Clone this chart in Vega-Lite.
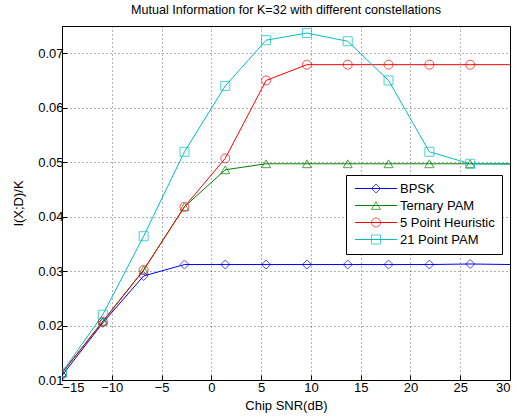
{
  "$schema": "https://vega.github.io/schema/vega-lite/v6.json",
  "autosize": {"type": "none"},
  "padding": {"left": 62, "top": 26, "right": 7, "bottom": 39},
  "width": 448,
  "height": 354,
  "title": {"text": "Mutual Information for K=32 with different constellations", "fontSize": 12.6, "font": "Liberation Sans", "fontWeight": "normal", "color": "#000", "offset": 9},
  "config": {
    "view": {"stroke": "#000", "strokeWidth": 1},
    "font": "Liberation Sans",
    "axis": {
      "labelFont": "Liberation Sans", "labelFontSize": 13, "labelColor": "#000",
      "titleFont": "Liberation Sans", "titleFontSize": 13, "titleColor": "#000", "titleFontWeight": "normal",
      "domainColor": "#000", "tickColor": "#000", "tickSize": -5,
      "gridColor": "#000", "gridOpacity": 0.6, "gridDash": [1, 3], "gridWidth": 1
    },
    "legend": {"labelFont": "Liberation Sans", "labelFontSize": 13, "labelColor": "#000", "symbolSize": 81, "symbolStrokeWidth": 1, "rowPadding": 3, "padding": 7}
  },
  "data": {"values": [
    {"series": "BPSK", "x": -15, "y": 0.0108},
    {"series": "BPSK", "x": -10.9, "y": 0.0205},
    {"series": "BPSK", "x": -6.8, "y": 0.0291},
    {"series": "BPSK", "x": -2.7, "y": 0.0312},
    {"series": "BPSK", "x": 1.4, "y": 0.0312},
    {"series": "BPSK", "x": 5.5, "y": 0.0312},
    {"series": "BPSK", "x": 9.6, "y": 0.0312},
    {"series": "BPSK", "x": 13.7, "y": 0.0312},
    {"series": "BPSK", "x": 17.8, "y": 0.0312},
    {"series": "BPSK", "x": 21.9, "y": 0.0312},
    {"series": "BPSK", "x": 26, "y": 0.0313},
    {"series": "BPSK", "x": 30.1, "y": 0.0312},
    {"series": "Ternary PAM", "x": -15, "y": 0.0113},
    {"series": "Ternary PAM", "x": -10.9, "y": 0.0208},
    {"series": "Ternary PAM", "x": -6.8, "y": 0.0302},
    {"series": "Ternary PAM", "x": -2.7, "y": 0.0418},
    {"series": "Ternary PAM", "x": 1.4, "y": 0.0486},
    {"series": "Ternary PAM", "x": 5.5, "y": 0.0497},
    {"series": "Ternary PAM", "x": 9.6, "y": 0.0497},
    {"series": "Ternary PAM", "x": 13.7, "y": 0.0497},
    {"series": "Ternary PAM", "x": 17.8, "y": 0.0497},
    {"series": "Ternary PAM", "x": 21.9, "y": 0.0497},
    {"series": "Ternary PAM", "x": 26, "y": 0.0497},
    {"series": "Ternary PAM", "x": 30.1, "y": 0.0497},
    {"series": "5 Point Heuristic", "x": -15, "y": 0.0113},
    {"series": "5 Point Heuristic", "x": -10.9, "y": 0.0207},
    {"series": "5 Point Heuristic", "x": -6.8, "y": 0.0302},
    {"series": "5 Point Heuristic", "x": -2.7, "y": 0.0418},
    {"series": "5 Point Heuristic", "x": 1.4, "y": 0.0507},
    {"series": "5 Point Heuristic", "x": 5.5, "y": 0.0650},
    {"series": "5 Point Heuristic", "x": 9.6, "y": 0.0679},
    {"series": "5 Point Heuristic", "x": 13.7, "y": 0.0679},
    {"series": "5 Point Heuristic", "x": 17.8, "y": 0.0679},
    {"series": "5 Point Heuristic", "x": 21.9, "y": 0.0679},
    {"series": "5 Point Heuristic", "x": 26, "y": 0.0679},
    {"series": "5 Point Heuristic", "x": 30.1, "y": 0.0679},
    {"series": "21 Point PAM", "x": -15, "y": 0.0114},
    {"series": "21 Point PAM", "x": -10.9, "y": 0.0220},
    {"series": "21 Point PAM", "x": -6.8, "y": 0.0364},
    {"series": "21 Point PAM", "x": -2.7, "y": 0.0519},
    {"series": "21 Point PAM", "x": 1.4, "y": 0.0640},
    {"series": "21 Point PAM", "x": 5.5, "y": 0.0724},
    {"series": "21 Point PAM", "x": 9.6, "y": 0.0737},
    {"series": "21 Point PAM", "x": 13.7, "y": 0.0722},
    {"series": "21 Point PAM", "x": 17.8, "y": 0.0650},
    {"series": "21 Point PAM", "x": 21.9, "y": 0.0519},
    {"series": "21 Point PAM", "x": 26, "y": 0.0497},
    {"series": "21 Point PAM", "x": 30.1, "y": 0.0496}
  ]},
  "encoding": {
    "x": {"field": "x", "type": "quantitative", "title": "Chip SNR(dB)",
      "scale": {"domain": [-15, 30], "nice": false, "zero": false},
      "axis": {"values": [-15, -10, -5, 0, 5, 10, 15, 20, 25, 30], "labelPadding": 6, "titlePadding": 5, "labelExpr": "replace(datum.label, '-', '\u2212')"}},
    "y": {"field": "y", "type": "quantitative", "title": "I(X;D)/K",
      "scale": {"domain": [0.01, 0.075], "nice": false, "zero": false},
      "axis": {"values": [0.01, 0.02, 0.03, 0.04, 0.05, 0.06, 0.07], "format": ".2f", "labelPadding": 4, "titlePadding": 12}}
  },
  "layer": [
    {"mark": {"type": "line", "strokeWidth": 1, "clip": true},
     "encoding": {"stroke": {"field": "series", "type": "nominal",
       "scale": {"domain": ["BPSK", "Ternary PAM", "5 Point Heuristic", "21 Point PAM"], "range": ["#0000FF", "#008000", "#FF0000", "#00BFBF"]},
       "legend": {"title": null, "orient": "none", "legendX": 284, "legendY": 149, "zindex": 0,
         "values": ["BPSK", "Ternary PAM", "5 Point Heuristic", "21 Point PAM"],
         "strokeColor": "#000", "fillColor": "#fff", "labelOffset": 34,
         "symbolType": "M-1,0H8.33", "symbolFillColor": "transparent"}}}},
    {"transform": [{"filter": "datum.x <= 30"}],
     "mark": {"type": "point", "filled": false, "strokeWidth": 1, "size": 81, "clip": true},
     "encoding": {
       "color": {"field": "series", "type": "nominal",
         "scale": {"domain": ["21 Point PAM", "5 Point Heuristic", "Ternary PAM", "BPSK"], "range": ["#00BFBF", "#FF0000", "#008000", "#0000FF"]},
         "legend": {"title": null, "orient": "none", "legendX": 300.5, "legendY": 149, "zindex": 1,
           "values": ["BPSK", "Ternary PAM", "5 Point Heuristic", "21 Point PAM"],
           "labelOpacity": 0, "labelExpr": "' '", "labelOffset": 34, "symbolFillColor": "transparent"}},
       "shape": {"field": "series", "type": "nominal",
         "scale": {"domain": ["21 Point PAM", "5 Point Heuristic", "Ternary PAM", "BPSK"], "range": ["square", "circle", "triangle-up", "diamond"]},
         "legend": {"title": null, "orient": "none", "legendX": 300.5, "legendY": 149, "zindex": 1,
           "values": ["BPSK", "Ternary PAM", "5 Point Heuristic", "21 Point PAM"],
           "labelOpacity": 0, "labelExpr": "' '", "labelOffset": 34, "symbolFillColor": "transparent"}}}}
  ]
}
